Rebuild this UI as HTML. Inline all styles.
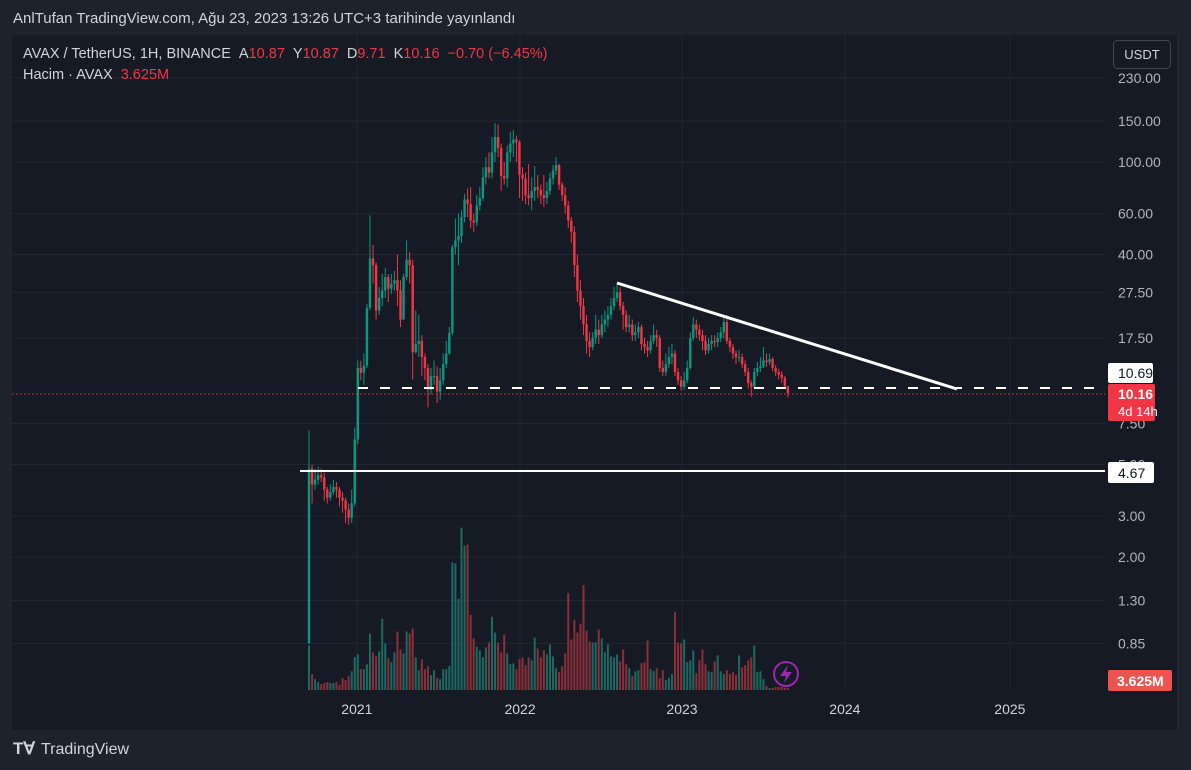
<!DOCTYPE html>
<html><head><meta charset="utf-8">
<style>
body{margin:0;width:1191px;height:770px;background:#1e222d;overflow:hidden;font-family:"Liberation Sans",sans-serif;}
#hdr{position:absolute;left:13px;top:10px;color:#d1d4dc;font-size:15px;}
svg{position:absolute;left:0;top:0;}
</style></head><body>
<div id="hdr">AnlTufan TradingView.com, Ağu 23, 2023 13:26 UTC+3 tarihinde yayınlandı</div>
<svg id="chart" width="1191" height="770">
<rect x="12" y="35" width="1166" height="695" fill="#161a25"/>
<line x1="1178" y1="35" x2="1178" y2="730" stroke="#2a2e39"/>
<g id="grid"></g><g id="vol"></g><g id="candles"></g><g id="overlay"></g><g id="axes"></g>
</svg>
<script>
const priceTicks=[230,150,100,60,40,27.5,17.5,7.5,5,3,2,1.3,0.85];
const priceTickLabels=["230.00","150.00","100.00","60.00","40.00","27.50","17.50","7.50","5.00","3.00","2.00","1.30","0.85"];
const yearLabels=["2021","2022","2023","2024","2025"];
const yearIndex=[15.7,69.2,122.3,175.7,229.8];
const firstOpen=0.85;
const closes=[4.8,4.1,4.3,4.5,4.4,3.9,3.6,3.8,4.0,3.9,3.6,3.5,3.2,2.95,3.4,6.4,13,12.4,13.3,23.6,38.5,36,23,26,28,32,28.5,30,31,28,21,32,38,36,15.2,16.5,17,14.5,13,10.5,12,12,10.3,11.5,13.5,15,18.4,43,46,48,58,69,66,56,55,65,70,86,95,90,110,128,115,87,85,110,120,125,122,88,85,72,70,75,78,76,72,70,75,85,92,97,80,72,65,56,50,36,28,24,20,17,16,17.5,19,18,20,21,22,24,26,27.5,24,22,19.5,20,18,18.5,19.5,16.5,16,15.5,17,18,17.5,13,12.5,13.5,14.5,15,12.5,11.5,10.8,11.5,13,17.5,20,19,18,17,15.5,16.5,17,16.8,17.5,18.5,20.5,17,16,15,14.5,14.5,13.5,12.5,11.2,10.8,12.5,13,13.2,14,13.8,14.2,13,12.5,12.2,11.8,10.87,10.16];
const highs=[7.0,5.0,4.8,4.9,4.8,4.6,4.0,4.1,4.3,4.2,4.0,3.8,3.6,3.4,3.9,7.2,14,14,15,24.5,59,44,37,29,33,35,33,33,34,40,31,33,46,41,38,23,22,18,15,13.5,13,14,13.2,13,15,17,19.5,44,57,60,62,73,77,78,60,72,78,95,105,110,128,147,145,120,100,118,135,137,130,124,95,90,98,86,96,88,80,88,82,90,97,105,98,82,78,68,58,53,40,31,26,22,18.5,18.5,22,21,22,23,24,26,29,30,29,25,23,22,21,20,20.5,20,17.5,17,18,20,19,18,14,15,16,16.5,15.5,13,12,12.5,14,18.5,21.5,21,20,19,18,17.5,18,18,18.5,19.5,21.5,22,17.5,16.5,15.5,15.5,15,14,13,11.5,13,13.8,14.5,16,15,15,14.5,13.4,12.9,12.6,12,10.87];
const lows=[0.85,3.4,3.9,4.1,4.2,3.5,3.4,3.5,3.7,3.6,3.3,3.1,2.8,2.75,2.8,3.3,6.1,11.5,11,13,23,30,21,22,24,26,25,27,28,24,19.5,21,31,30,11.6,15,14.5,12,11.5,8.8,10,11,9.2,9.5,11,13,14.8,18,40,36,45,55,58,52,50,53,62,68,80,85,85,100,105,75,80,78,100,105,100,70,68,66,65,62,68,70,66,64,66,72,80,88,76,68,60,52,45,32,25,21,18,15,14.5,15.5,16.5,16.5,17.5,18.5,19.5,21,23,25,23,19,18.5,18.5,17,17,17.5,15.5,15,14.5,15,16.5,16,12.5,12,12,13,13.5,12,11,10.4,10.5,11.2,12.8,17,17.5,17,15.5,14.8,15,15.5,16,16,16.8,17.5,16.5,15.2,14.2,13.5,13.8,13,12,10.6,9.8,10.6,12,12.5,13,13.2,13.4,12.6,12,11.6,11.2,10.6,9.71];
const volumeM=[45,16,11,8,6,7,8,7,7,8,5,12,10,14,19,33,36,21,21,26,57,38,34,39,72,47,32,28,38,59,41,37,59,57,62,33,20,31,21,24,15,20,12,11,21,21,24,129,128,92,164,146,147,76,52,44,40,33,43,48,74,58,48,38,56,37,26,27,21,31,33,25,33,30,53,42,33,40,36,46,34,22,18,24,37,98,51,71,58,67,106,60,49,48,48,61,52,38,46,34,33,36,29,41,26,22,14,19,20,27,28,50,21,19,22,12,20,10,12,16,79,48,47,51,28,30,40,17,30,41,26,19,18,29,35,19,16,20,16,18,15,35,23,25,30,33,45,18,19,11,4,2,2,3,3,3,2,2];

const NS="http://www.w3.org/2000/svg";
const X0=309, STEP=3.05, VOLBASE=690, VOLPX=0.99;
function xI(i){return X0+i*STEP;}
function yP(p){return 162-(Math.log10(p)-2)*232.5;}
function yV(v){return VOLBASE-v*VOLPX;}
function mk(tag,attrs,parent){const e=document.createElementNS(NS,tag);for(const k in attrs)e.setAttribute(k,attrs[k]);parent.appendChild(e);return e;}
const grid=document.getElementById('grid'),axes=document.getElementById('axes');
priceTicks.forEach((p,k)=>{
  const y=yP(p);
  const l=mk('line',{x1:12,x2:1105,y1:y,y2:y,stroke:'#232733'},grid);
  
  
  const t=mk('text',{x:1118,y:y+5,fill:'#b2b5be','font-size':14},axes);
  t.textContent=priceTickLabels[k];
  
  
});
yearLabels.forEach((lab,k)=>{
  const x=xI(yearIndex[k]);
  const l=mk('line',{x1:x,x2:x,y1:35,y2:690,stroke:'#232733'},grid);
  
  
  const t=mk('text',{x:x,y:714,fill:'#d1d4dc','font-size':14,'text-anchor':'middle'},axes);
  t.textContent=lab;
  
  
});
const vol=document.getElementById('vol'),cg=document.getElementById('candles');
closes.forEach((c,i)=>{
  const o=i===0?firstOpen:closes[i-1];
  const up=c>=o;
  const col=up?'#089981':'#f23645';
  const x=xI(i);
  if(i<volumeM.length){
    const v=volumeM[i];
    const vb=mk('rect',{x:x-1,y:yV(v),width:2,height:v*VOLPX,fill:up?'#1c6a61':'#8c2f39'},vol);
    
    
  }
  const w=mk('line',{x1:x,x2:x,y1:yP(highs[i]),y2:yP(lows[i]),stroke:col,'stroke-width':1},cg);
  
  
  const yt=yP(Math.max(o,c)),yb=yP(Math.min(o,c));
  const b=mk('rect',{x:x-1.2,y:yt,width:2.4,height:Math.max(1,yb-yt),fill:col},cg);
  
  
});
</script>
<svg width="1191" height="770">
<line x1="12" y1="394" x2="1105" y2="394" stroke="#f23645" stroke-width="1" stroke-dasharray="1.5 2.5"/>
<line x1="358" y1="388" x2="1105" y2="388" stroke="#ffffff" stroke-width="2" stroke-dasharray="10 12"/>
<line x1="300" y1="471" x2="1105" y2="471" stroke="#ffffff" stroke-width="2"/>
<line x1="617" y1="283" x2="957" y2="389" stroke="#ffffff" stroke-width="3"/>
<circle cx="786" cy="674" r="12" fill="#161a25" stroke="#9c27b0" stroke-width="2"/>
<polygon points="788,665 780,676 786,676 784,683 792,672 786,672" fill="#9c27b0"/>
<rect x="1108" y="363" width="45" height="20" rx="2" fill="#ffffff"/>
<text x="1118" y="378" fill="#131722" font-size="14">10.69</text>
<rect x="1108" y="384" width="47" height="37" rx="2" fill="#f23645"/>
<text x="1118" y="399" fill="#ffffff" font-size="14" font-weight="bold">10.16</text>
<text x="1118" y="416" fill="#ffffff" font-size="13">4d 14h</text>
<rect x="1108" y="462" width="46" height="21" rx="2" fill="#ffffff"/>
<text x="1118" y="478" fill="#131722" font-size="14">4.67</text>
<rect x="1108" y="670" width="64" height="21" rx="2" fill="#ef5350"/>
<text x="1117" y="686" fill="#ffffff" font-size="14" font-weight="bold">3.625M</text>
<rect x="1113.5" y="40.5" width="57" height="28" rx="4" fill="#161a25" stroke="#434651"/>
<text x="1142" y="59" fill="#d1d4dc" font-size="13" text-anchor="middle">USDT</text>
<text x="23" y="58" font-size="14.5" fill="#d1d4dc">AVAX / TetherUS, 1H, BINANCE<tspan dx="8">A</tspan><tspan fill="#f23645">10.87</tspan><tspan dx="8">Y</tspan><tspan fill="#f23645">10.87</tspan><tspan dx="8">D</tspan><tspan fill="#f23645">9.71</tspan><tspan dx="8">K</tspan><tspan fill="#f23645">10.16</tspan><tspan dx="8" fill="#f23645">−0.70 (−6.45%)</tspan></text>
<text x="23" y="79" font-size="14.5" fill="#d1d4dc">Hacim · AVAX<tspan dx="8" fill="#f23645">3.625M</tspan></text>
<text x="13" y="754" font-size="17" font-weight="bold" fill="#d1d4dc">T∀</text>
<text x="41" y="754" font-size="16" fill="#d1d4dc">TradingView</text>
</svg>
</body></html>
